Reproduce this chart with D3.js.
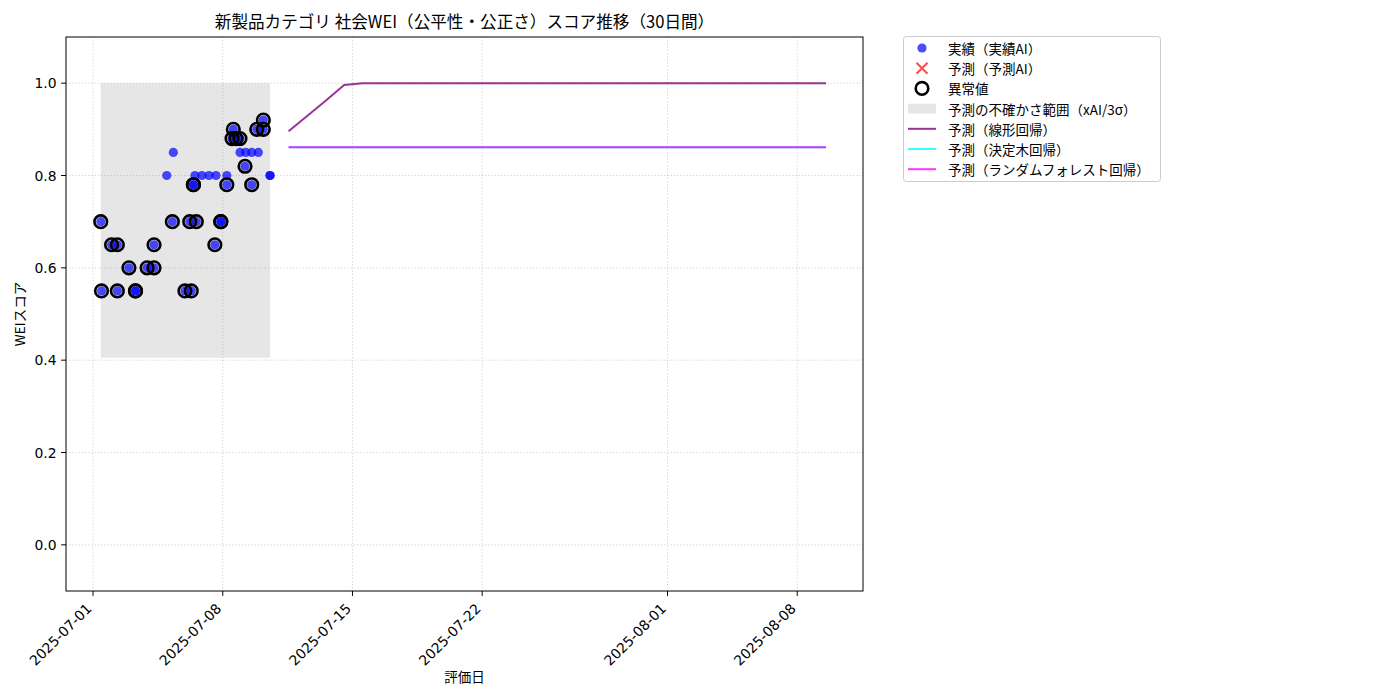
<!DOCTYPE html>
<html lang="ja">
<head>
<meta charset="UTF-8">
<title>社会WEI スコア推移</title>
<script src="https://cdn.jsdelivr.net/npm/d3@7"></script>
<style>
  body { margin: 0; background: #fff; }
  text { font-family: "Noto Sans CJK JP", "Noto Sans", sans-serif; fill: #000; }
  text.tick { font-family: "DejaVu Sans", sans-serif; }
</style>
</head>
<body>
<script>
// 実績データ（評価日時・スコア・異常値フラグ）
var actualDates = [
    "2025-07-01T10:00", "2025-07-01T11:00", "2025-07-02T00:00", "2025-07-02T07:30", "2025-07-02T07:30",
    "2025-07-02T22:30", "2025-07-03T07:00", "2025-07-03T07:00", "2025-07-03T22:00", "2025-07-04T07:00",
    "2025-07-04T07:00", "2025-07-04T23:30", "2025-07-05T06:45", "2025-07-05T08:00", "2025-07-05T23:00",
    "2025-07-06T05:15", "2025-07-06T07:15", "2025-07-06T10:00", "2025-07-06T10:00", "2025-07-06T12:00",
    "2025-07-06T13:45", "2025-07-06T21:00", "2025-07-07T06:15", "2025-07-07T13:45", "2025-07-07T15:15",
    "2025-07-07T21:30", "2025-07-07T21:30", "2025-07-08T05:15", "2025-07-08T05:15", "2025-07-08T12:00",
    "2025-07-08T13:40", "2025-07-08T17:15", "2025-07-08T22:20", "2025-07-08T22:20", "2025-07-09T04:50",
    "2025-07-09T05:45", "2025-07-09T13:30", "2025-07-09T13:30", "2025-07-09T20:00", "2025-07-09T22:05",
    "2025-07-10T04:35", "2025-07-10T04:35", "2025-07-10T13:15", "2025-07-10T13:15"
];
var actualScores = [
    0.70, 0.55, 0.65, 0.65, 0.55,
    0.60, 0.55, 0.55, 0.60, 0.60,
    0.65, 0.80, 0.70, 0.85, 0.55,
    0.70, 0.55, 0.78, 0.78, 0.80,
    0.70, 0.80, 0.80, 0.65, 0.80,
    0.70, 0.70, 0.80, 0.78, 0.88,
    0.90, 0.88, 0.88, 0.85, 0.82,
    0.85, 0.85, 0.78, 0.90, 0.85,
    0.90, 0.92, 0.80, 0.80
];
var anomalyFlags = [
    1, 1, 1, 1, 1,
    1, 1, 1, 1, 1,
    1, 0, 1, 0, 1,
    1, 1, 1, 1, 0,
    1, 0, 0, 1, 0,
    1, 1, 0, 1, 1,
    1, 1, 1, 0, 1,
    0, 0, 1, 1, 0,
    1, 1, 0, 0
];

// 不確かさ範囲（xAI/3σ）
var bandLower = 0.405;
var bandUpper = 1.0;

// 予測（30日間）
var forecastDays = 30;
var linearPred = [
    0.896, 0.929, 0.962, 0.996, 1.0, 1.0, 1.0, 1.0, 1.0, 1.0,
    1.0, 1.0, 1.0, 1.0, 1.0, 1.0, 1.0, 1.0, 1.0, 1.0,
    1.0, 1.0, 1.0, 1.0, 1.0, 1.0, 1.0, 1.0, 1.0, 1.0
];
var treePred = [
    0.861, 0.861, 0.861, 0.861, 0.861, 0.861, 0.861, 0.861, 0.861, 0.861,
    0.861, 0.861, 0.861, 0.861, 0.861, 0.861, 0.861, 0.861, 0.861, 0.861,
    0.861, 0.861, 0.861, 0.861, 0.861, 0.861, 0.861, 0.861, 0.861, 0.861
];
var forestPred = [
    0.861, 0.861, 0.861, 0.861, 0.861, 0.861, 0.861, 0.861, 0.861, 0.861,
    0.861, 0.861, 0.861, 0.861, 0.861, 0.861, 0.861, 0.861, 0.861, 0.861,
    0.861, 0.861, 0.861, 0.861, 0.861, 0.861, 0.861, 0.861, 0.861, 0.861
];

// 軸
var xDomain = ["2025-06-29T13:00", "2025-08-11T13:10"];
var xTicks = ["2025-07-01T00:00", "2025-07-08T00:00", "2025-07-15T00:00",
              "2025-07-22T00:00", "2025-08-01T00:00", "2025-08-08T00:00"];
var yDomain = [-0.1, 1.1];
var yTicks = [0.0, 0.2, 0.4, 0.6, 0.8, 1.0];

var legendLabels = [
    "実績（実績AI）", "予測（予測AI）", "異常値", "予測の不確かさ範囲（xAI/3σ）",
    "予測（線形回帰）", "予測（決定木回帰）", "予測（ランダムフォレスト回帰）"
];

var parse = d3.timeParse("%Y-%m-%dT%H:%M");
var fmt = d3.timeFormat("%Y-%m-%d");

var plotLeft = 66, plotRight = 863, plotTop = 37, plotBottom = 591;

var actual = actualDates.map(function (d, i) {
    return { date: parse(d), score: actualScores[i], anomaly: anomalyFlags[i] === 1 };
});
var lastDate = actual[actual.length - 1].date;
var futureDates = d3.range(1, forecastDays + 1).map(function (i) {
    return d3.timeDay.offset(lastDate, i);
});

var xScale = d3.scaleTime()
    .domain(xDomain.map(parse))
    .range([plotLeft, plotRight]);
var yScale = d3.scaleLinear()
    .domain(yDomain)
    .range([plotBottom, plotTop]);

var svg = d3.select("body")
    .append("svg")
    .attr("width", 1400)
    .attr("height", 700);

// グリッド
var grid = svg.append("g");
grid.selectAll("line.gx")
    .data(xTicks.map(parse))
    .enter()
    .append("line")
    .attr("x1", function (d) { return xScale(d); })
    .attr("x2", function (d) { return xScale(d); })
    .attr("y1", plotTop)
    .attr("y2", plotBottom)
    .attr("stroke", "#b0b0b0")
    .attr("stroke-opacity", 0.7)
    .attr("stroke-width", 0.8)
    .attr("stroke-dasharray", "1.2,2");
grid.selectAll("line.gy")
    .data(yTicks)
    .enter()
    .append("line")
    .attr("x1", plotLeft)
    .attr("x2", plotRight)
    .attr("y1", function (d) { return yScale(d); })
    .attr("y2", function (d) { return yScale(d); })
    .attr("stroke", "#b0b0b0")
    .attr("stroke-opacity", 0.7)
    .attr("stroke-width", 0.8)
    .attr("stroke-dasharray", "1.2,2");

// 不確かさ範囲
var bandArea = d3.area()
    .x(function (d) { return xScale(d.date); })
    .y0(yScale(bandLower))
    .y1(yScale(bandUpper));
svg.append("path")
    .datum([actual[0], actual[actual.length - 1]])
    .attr("d", bandArea)
    .attr("fill", "gray")
    .attr("fill-opacity", 0.2);

// 予測線
var lineGen = d3.line()
    .x(function (d) { return xScale(d[0]); })
    .y(function (d) { return yScale(d[1]); });
var preds = [
    { values: linearPred, color: "purple" },
    { values: treePred, color: "cyan" },
    { values: forestPred, color: "magenta" }
];
preds.forEach(function (p) {
    svg.append("path")
        .datum(futureDates.map(function (d, i) { return [d, p.values[i]]; }))
        .attr("d", lineGen)
        .attr("fill", "none")
        .attr("stroke", p.color)
        .attr("stroke-opacity", 0.8)
        .attr("stroke-width", 2);
});

// 実績
svg.selectAll("circle.actual")
    .data(actual)
    .enter()
    .append("circle")
    .attr("cx", function (d) { return xScale(d.date); })
    .attr("cy", function (d) { return yScale(d.score); })
    .attr("r", 4.6)
    .attr("fill", "blue")
    .attr("fill-opacity", 0.7);

// 異常値
svg.selectAll("circle.anomaly")
    .data(actual.filter(function (d) { return d.anomaly; }))
    .enter()
    .append("circle")
    .attr("cx", function (d) { return xScale(d.date); })
    .attr("cy", function (d) { return yScale(d.score); })
    .attr("r", 6.3)
    .attr("fill", "none")
    .attr("stroke", "black")
    .attr("stroke-width", 2.6);

// 枠
svg.append("rect")
    .attr("x", plotLeft)
    .attr("y", plotTop)
    .attr("width", plotRight - plotLeft)
    .attr("height", plotBottom - plotTop)
    .attr("fill", "none")
    .attr("stroke", "black")
    .attr("stroke-width", 1);

// x軸
var xg = svg.append("g");
xTicks.map(parse).forEach(function (d) {
    var x = xScale(d);
    xg.append("line")
        .attr("x1", x).attr("x2", x)
        .attr("y1", plotBottom).attr("y2", plotBottom + 4.9)
        .attr("stroke", "black");
    xg.append("text")
        .attr("class", "tick")
        .attr("transform", "translate(" + (x - 4) + "," + (plotBottom + 15) + ") rotate(-45)")
        .attr("text-anchor", "end")
        .attr("dominant-baseline", "central")
        .attr("font-size", "13.9px")
        .text(fmt(d));
});

// y軸
var yg = svg.append("g");
yTicks.forEach(function (v) {
    var y = yScale(v);
    yg.append("line")
        .attr("x1", plotLeft - 4.9).attr("x2", plotLeft)
        .attr("y1", y).attr("y2", y)
        .attr("stroke", "black");
    yg.append("text")
        .attr("class", "tick")
        .attr("x", plotLeft - 9.5)
        .attr("y", y)
        .attr("text-anchor", "end")
        .attr("dominant-baseline", "central")
        .attr("font-size", "13.9px")
        .text(d3.format(".1f")(v));
});

// タイトル・ラベル
svg.append("text")
    .attr("x", (plotLeft + plotRight) / 2)
    .attr("y", 21)
    .attr("text-anchor", "middle")
    .attr("dominant-baseline", "central")
    .attr("font-size", "16.6px")
    .text("新製品カテゴリ 社会WEI（公平性・公正さ）スコア推移（30日間）");
svg.append("text")
    .attr("x", (plotLeft + plotRight) / 2)
    .attr("y", 676)
    .attr("text-anchor", "middle")
    .attr("dominant-baseline", "central")
    .attr("font-size", "13.5px")
    .text("評価日");
svg.append("text")
    .attr("transform", "translate(19," + ((plotTop + plotBottom) / 2) + ") rotate(-90)")
    .attr("text-anchor", "middle")
    .attr("dominant-baseline", "central")
    .attr("font-size", "13.5px")
    .text("WEIスコア");

// 凡例
var lg = svg.append("g");
lg.append("rect")
    .attr("x", 903.5).attr("y", 36.5)
    .attr("width", 257).attr("height", 145)
    .attr("rx", 3)
    .attr("fill", "white")
    .attr("fill-opacity", 0.8)
    .attr("stroke", "#cccccc");
var rowY = function (i) { return 48 + i * 20.2; };
var mx = 922;
lg.append("circle")
    .attr("cx", mx).attr("cy", rowY(0)).attr("r", 4.6)
    .attr("fill", "blue").attr("fill-opacity", 0.7);
lg.append("path")
    .attr("d", "M" + (mx - 5.5) + "," + (rowY(1) - 5.5) + "L" + (mx + 5.5) + "," + (rowY(1) + 5.5) +
               "M" + (mx - 5.5) + "," + (rowY(1) + 5.5) + "L" + (mx + 5.5) + "," + (rowY(1) - 5.5))
    .attr("stroke", "red").attr("stroke-opacity", 0.7).attr("stroke-width", 2);
lg.append("circle")
    .attr("cx", mx).attr("cy", rowY(2)).attr("r", 6.3)
    .attr("fill", "none").attr("stroke", "black").attr("stroke-width", 2.6);
lg.append("rect")
    .attr("x", 908).attr("y", rowY(3) - 4.9)
    .attr("width", 28).attr("height", 9.8)
    .attr("fill", "gray").attr("fill-opacity", 0.2);
preds.forEach(function (p, i) {
    lg.append("line")
        .attr("x1", 908).attr("x2", 936)
        .attr("y1", rowY(4 + i)).attr("y2", rowY(4 + i))
        .attr("stroke", p.color).attr("stroke-opacity", 0.8).attr("stroke-width", 2);
});
lg.selectAll("text")
    .data(legendLabels)
    .enter()
    .append("text")
    .attr("x", 948)
    .attr("y", function (d, i) { return rowY(i); })
    .attr("dominant-baseline", "central")
    .attr("font-size", "13.5px")
    .text(function (d) { return d; });
</script>
</body>
</html>
